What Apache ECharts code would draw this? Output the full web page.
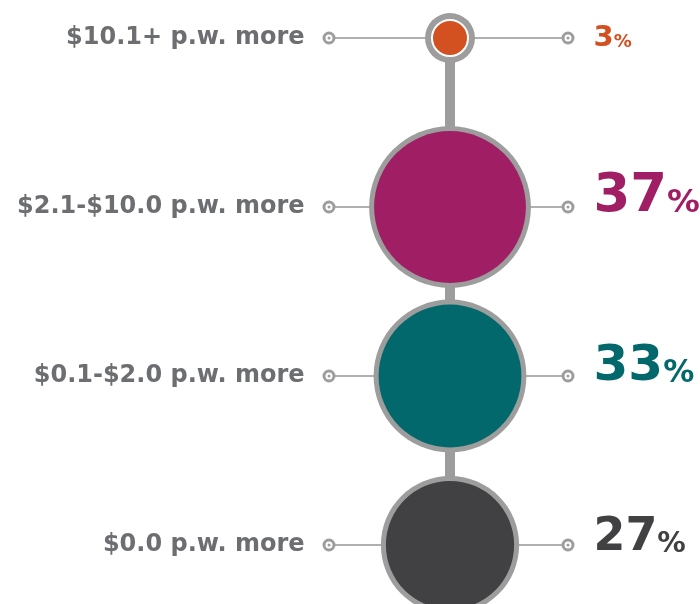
<!DOCTYPE html>
<html>
<head>
<meta charset="utf-8">
<script src="https://cdn.jsdelivr.net/npm/echarts@6/dist/echarts.min.js"></script>
<style>
  html, body { margin: 0; padding: 0; background: #fff; }
  #chart { width: 700px; height: 604px; }
</style>
</head>
<body>
<div id="chart"></div>
<script>
// data
const rows = ['$10.1+ p.w. more', '$2.1-$10.0 p.w. more', '$0.1-$2.0 p.w. more', '$0.0 p.w. more']
const shares = [3, 37, 33, 27]
const colors = ['#d35020', '#a01e64', '#02686b', '#414042']

const ringGrey = '#9d9d9d'
const lineGrey = '#b0b0b0'
const leftX = -121
const rightX = 118
const font = 'DejaVu Sans'

// circle area follows the share
function ringSize(v) {
  return Math.max(2 * 13.3 * Math.sqrt(v), 50)
}
function pctSize(v) {
  return 27 + 0.7 * v
}

const chart = echarts.init(document.getElementById('chart'))

const leaders = rows.map(r => ({
  type: 'line',
  data: [[leftX, r], [rightX, r]],
  symbol: 'none',
  silent: true,
  lineStyle: { color: lineGrey, width: 2 },
  z: 1
}))

chart.setOption({
  animation: false,
  grid: { left: 0, right: 0, top: 38, bottom: 59 },
  xAxis: { type: 'value', min: -450, max: 250, show: false },
  yAxis: { type: 'category', data: rows, inverse: true, boundaryGap: false, show: false },
  series: [
    // stem
    {
      type: 'line',
      data: rows.map(r => [0, r]),
      symbol: 'none',
      silent: true,
      lineStyle: { color: ringGrey, width: 10 },
      z: 2
    },
    ...leaders,
    // left dots + category labels
    {
      type: 'scatter',
      data: rows.map(r => [leftX, r]),
      symbol: 'circle',
      symbolSize: 10,
      itemStyle: { color: '#fff', borderColor: ringGrey, borderWidth: 3, opacity: 1 },
      label: {
        show: true,
        position: 'left',
        distance: 18,
        formatter: p => rows[p.dataIndex],
        fontFamily: font,
        fontWeight: 'bold',
        fontSize: 24,
        color: '#6d6e71'
      },
      z: 3
    },
    // right dots + percentages
    {
      type: 'scatter',
      data: rows.map((r, i) => ({
        value: [rightX, r],
        label: {
          offset: [0, -(pctSize(shares[i]) - 30) * 0.43],
          rich: {
            n: { fontFamily: font, fontWeight: 'bold', fontSize: pctSize(shares[i]), color: colors[i], verticalAlign: 'bottom', lineHeight: pctSize(shares[i]) },
            p: { fontFamily: font, fontWeight: 'bold', fontSize: pctSize(shares[i]) * 0.62, color: colors[i], verticalAlign: 'bottom', lineHeight: pctSize(shares[i]) * 0.62, padding: [0, 0, pctSize(shares[i]) * 0.06, 0] }
          }
        }
      })),
      symbol: 'circle',
      symbolSize: 10,
      itemStyle: { color: '#fff', borderColor: ringGrey, borderWidth: 3, opacity: 1 },
      label: {
        show: true,
        position: 'right',
        distance: 19,
        formatter: p => '{n|' + shares[p.dataIndex] + '}{p|%}'
      },
      z: 3
    },
    // dot centres
    {
      type: 'scatter',
      data: rows.map(r => [leftX, r]).concat(rows.map(r => [rightX, r])),
      symbol: 'circle',
      symbolSize: 3,
      silent: true,
      itemStyle: { color: ringGrey, opacity: 1 },
      z: 4
    },
    // grey rings
    {
      type: 'scatter',
      data: rows.map((r, i) => [0, r, shares[i]]),
      symbol: 'circle',
      symbolSize: d => ringSize(d[2]),
      itemStyle: { color: ringGrey, opacity: 1 },
      z: 5
    },
    // coloured fills
    {
      type: 'scatter',
      data: rows.map((r, i) => ({
        value: [0, r, shares[i]],
        itemStyle: shares[i] < 10
          ? { color: colors[i], borderColor: '#fff', borderWidth: 2, opacity: 1 }
          : { color: colors[i], opacity: 1 }
      })),
      symbol: 'circle',
      symbolSize: d => d[2] < 10 ? ringSize(d[2]) - 14 : ringSize(d[2]) - 10,
      z: 6
    }
  ]
})
</script>
</body>
</html>
